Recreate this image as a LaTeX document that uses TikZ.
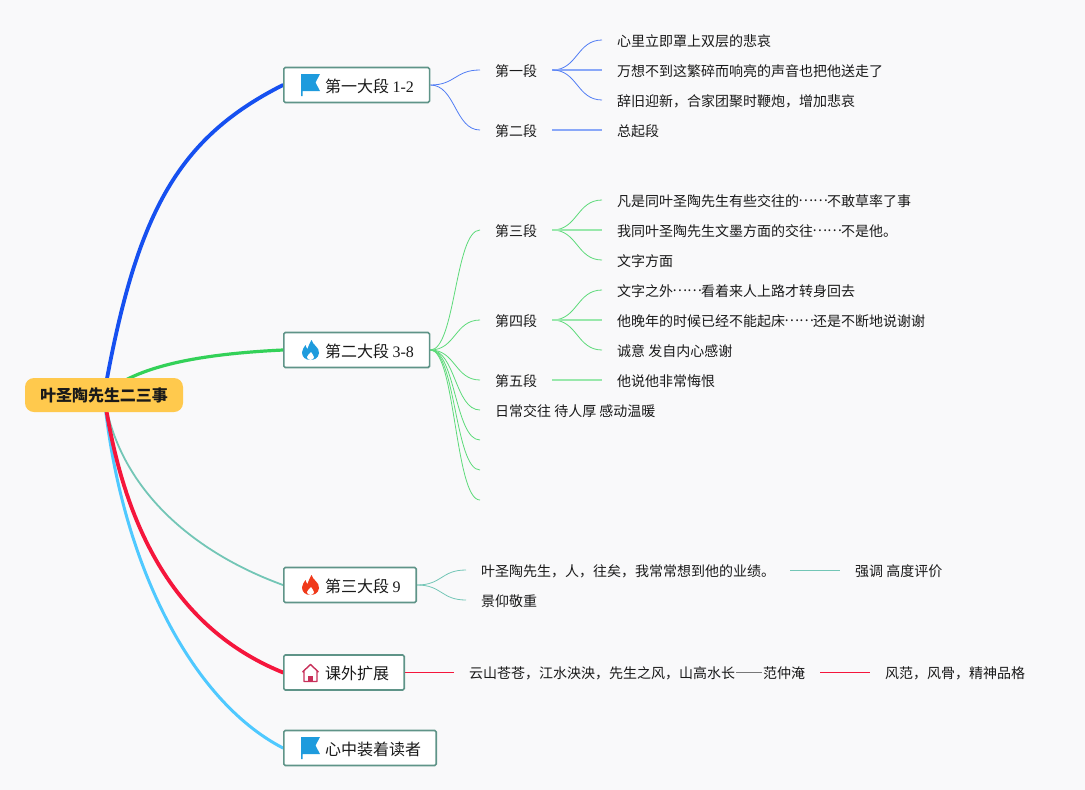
\documentclass[tikz,border=0pt]{standalone}
\usepackage{fontspec}
\setmainfont{Liberation Serif}
\newfontfamily\cjk{Noto Sans CJK SC}
\newfontfamily\cjkwide[RawFeature=+fwid]{Noto Sans CJK SC}
\usetikzlibrary{backgrounds}
\definecolor{boxline}{HTML}{5F9488}
\definecolor{rootfill}{HTML}{FFC94D}
\definecolor{pagefill}{HTML}{F9F9FA}
\definecolor{inkfill}{HTML}{1A1A1A}
\definecolor{flagblue}{HTML}{1E9BDD}
\definecolor{firered}{HTML}{F0391A}
\definecolor{homered}{HTML}{C8305A}
\definecolor{bluemain}{HTML}{1650F0}
\definecolor{greenmain}{HTML}{33D158}
\definecolor{tealmain}{HTML}{73C6B6}
\definecolor{redmain}{HTML}{F5163C}
\definecolor{skymain}{HTML}{4FC9FF}
\newcommand{\dotsrun}{\makebox[28pt]{\raisebox{4.4pt}{……}}}
\newcommand{\dashrun}{{\cjkwide ——}}
\tikzset{
	rootbox/.style={fill=rootfill,rounded corners=9pt,minimum width=158pt,minimum height=34pt,inner sep=0pt,text=inkfill,font=\fontsize{16}{18}\selectfont\cjk\bfseries},
	topicbox/.style={draw=boxline,fill=white,line width=1.6pt,rounded corners=1.5pt,minimum height=35pt,inner ysep=0pt,inner xsep=15.7pt,text height=16pt,text depth=1.8pt,anchor=west,text=inkfill,font=\fontsize{16}{18}\selectfont\cjk},
	textitem/.style={anchor=west,inner xsep=15pt,inner ysep=0pt,text height=14pt,text depth=1.4pt,text=inkfill,font=\fontsize{14}{16}\selectfont\cjk},
	mainline/.style={line cap=round},
	twig/.style={line width=0.8pt},
	sway/.style={out=0,in=180,out min distance=25pt,in min distance=25pt,out max distance=25pt,in max distance=25pt},
	flatline/.style={line width=1.3pt},
	flagicon/.pic={\fill[flagblue] (-9.5,-11) -- (9.5,-11) -- (5,-2.5) -- (9.5,6) -- (-8,6) -- (-8,11) -- (-9.5,11) -- cycle;},
	flameicon/.pic={\fill[pic actions] (1,-10) .. controls (2,-5) and (9,-3) .. (8.5,3) .. controls (8,8) and (4,10) .. (0,10) .. controls (-5,10) and (-8.5,7) .. (-8.5,2.5) .. controls (-8.5,-1) and (-6,-3) .. (-5,-5) .. controls (-4.5,-3) and (-4,-2) .. (-3,-1) .. controls (-2,-4) and (-1,-7) .. (1,-10) -- cycle;
		\fill[white] (0.5,2) .. controls (1,4) and (3.5,5) .. (3.5,7) .. controls (3.5,8.5) and (2,10) .. (0,10) .. controls (-2,10) and (-3.5,8.5) .. (-3.5,7) .. controls (-3.5,5.5) and (-1,4) .. (0.5,2) -- cycle;},
	homeicon/.pic={\draw[homered,line width=1.4pt,line join=round] (-8,-1) -- (0,-8.5) -- (8,-1) (-6.5,-2.5) -- (-6.5,8.5) -- (6.5,8.5) -- (6.5,-2.5);
		\fill[homered] (-2.5,8.5) -- (-2.5,3) -- (2.5,3) -- (2.5,8.5) -- cycle;}
}
\begin{document}
\begin{tikzpicture}[x=1pt,y=-1pt]
		%page
			\useasboundingbox (0,0) rectangle (1085,790);
		%root + main boxes
			\node[rootbox] (root) at (104,395) {叶圣陶先生二三事};
			\node[topicbox] (partA) at (283,85) {\hspace*{25.5pt}第一大段 {\rmfamily 1-2}};
			\node[topicbox] (partB) at (283,350) {\hspace*{25.5pt}第二大段 {\rmfamily 3-8}};
			\node[topicbox] (partC) at (283,585) {\hspace*{25.5pt}第三大段 {\rmfamily 9}};
			\node[topicbox,inner xsep=15.2pt] (partD) at (283,672.5) {\hspace*{26pt}课外扩展};
			\node[topicbox,inner xsep=15.2pt] (partE) at (283,748) {\hspace*{26pt}心中装着读者};
		%icons
			\pic at (310.5,85) {flagicon};
			\pic[fill=flagblue] at (310.5,350) {flameicon};
			\pic[fill=firered] at (310.5,585) {flameicon};
			\pic at (310.5,673) {homeicon};
			\pic at (310.5,748) {flagicon};
		%first part
			\node[textitem] (sec1) at (480,70) {第一段};
			\node[textitem] (sec2) at (480,130) {第二段};
			\node[textitem] (leaf1a) at (602,40) {心里立即罩上双层的悲哀};
			\node[textitem] (leaf1b) at (602,70) {万想不到这繁碎而响亮的声音也把他送走了};
			\node[textitem] (leaf1c) at (602,100) {辞旧迎新，合家团聚时鞭炮，增加悲哀};
			\node[textitem] (leaf2a) at (602,130) {总起段};
		%second part
			\node[textitem] (sec3) at (480,230) {第三段};
			\node[textitem] (sec4) at (480,320) {第四段};
			\node[textitem] (sec5) at (480,380) {第五段};
			\node[textitem] (sec6) at (480,410) {日常交往 待人厚 感动温暖};
			\coordinate (sec7) at (480,440);
			\coordinate (sec8) at (480,470);
			\coordinate (sec9) at (480,500);
			\node[textitem] (leaf3a) at (602,200) {凡是同叶圣陶先生有些交往的\dotsrun 不敢草率了事};
			\node[textitem] (leaf3b) at (602,230) {我同叶圣陶先生文墨方面的交往\dotsrun 不是他。};
			\node[textitem] (leaf3c) at (602,260) {文字方面};
			\node[textitem] (leaf4a) at (602,290) {文字之外\dotsrun 看着来人上路才转身回去};
			\node[textitem] (leaf4b) at (602,320) {他晚年的时候已经不能起床\dotsrun 还是不断地说谢谢};
			\node[textitem] (leaf4c) at (602,350) {诚意 发自内心感谢};
			\node[textitem] (leaf5a) at (602,380) {他说他非常悔恨};
		%third part
			\node[textitem] (secC1) at (466,570) {叶圣陶先生，人，往矣，我常常想到他的业绩。};
			\node[textitem] (secC2) at (466,600) {景仰敬重};
			\node[textitem] (leafC1) at (840,570) {强调 高度评价};
		%extension
			\node[textitem] (secD1) at (454,672.5) {云山苍苍，江水泱泱，先生之风，山高水长\dashrun 范仲淹};
			\node[textitem] (leafD1) at (870,672.5) {风范，风骨，精神品格};
		\begin{pgfonlayer}{background}
			\fill[pagefill] (0,0) rectangle (1085,790);
		%thick curves
			\draw[mainline,bluemain,line width=3.8pt] (root.center) .. controls (136,215) and (176,139) .. (partA.west);
			\draw[mainline,greenmain,line width=3.2pt] (root.center) .. controls (135,366) and (200,354) .. (partB.west);
			\draw[mainline,tealmain,line width=1.8pt] (root.center) .. controls (118,490) and (195,553) .. (partC.west);
			\draw[mainline,skymain,line width=3pt] (root.center) .. controls (120,560) and (190,700) .. (partE.west);
			\draw[mainline,redmain,line width=3.8pt] (root.center) .. controls (125,540) and (183,632) .. (partD.west);
		%blue twigs
			\draw[twig,bluemain!75!white] (partA.east) to[sway] (sec1.west);
			\draw[twig,bluemain!75!white] (partA.east) to[sway] (sec2.west);
			\draw[twig,bluemain!75!white] (sec1.east) to[sway] (leaf1a.west);
			\draw[flatline,bluemain!50!white] (sec1.east) -- (leaf1b.west);
			\draw[twig,bluemain!75!white] (sec1.east) to[sway] (leaf1c.west);
			\draw[flatline,bluemain!50!white] (sec2.east) -- (leaf2a.west);
		%green twigs
			\foreach \target in {sec3.west,sec4.west,sec5.west,sec6.west,sec7,sec8,sec9}
				\draw[twig,greenmain!80!white] (partB.east) to[sway] (\target);
			\foreach \target in {leaf3a,leaf3c}
				\draw[twig,greenmain!80!white] (sec3.east) to[sway] (\target.west);
			\draw[flatline,greenmain!50!white] (sec3.east) -- (leaf3b.west);
			\foreach \target in {leaf4a,leaf4c}
				\draw[twig,greenmain!80!white] (sec4.east) to[sway] (\target.west);
			\draw[flatline,greenmain!50!white] (sec4.east) -- (leaf4b.west);
			\draw[flatline,greenmain!50!white] (sec5.east) -- (leaf5a.west);
		%teal + red twigs
			\draw[twig,tealmain] (partC.east) to[sway] (secC1.west);
			\draw[twig,tealmain] (partC.east) to[sway] (secC2.west);
			\draw[twig,tealmain] (secC1.east) -- (leafC1.west);
			\draw[twig,redmain] (partD.east) -- (secD1.west);
			\draw[twig,redmain] (secD1.east) -- (leafD1.west);
		\end{pgfonlayer}
	\end{tikzpicture}
\end{document}
